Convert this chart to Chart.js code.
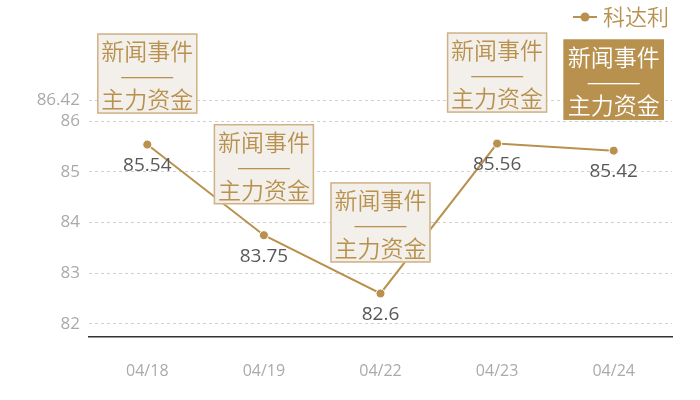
<!DOCTYPE html>
<html><head><meta charset="utf-8">
<script src="https://cdn.jsdelivr.net/npm/chart.js@4/dist/chart.umd.min.js"></script>
<style>html,body{margin:0;padding:0;background:#fff}#w{width:700px;height:400px}</style>
</head><body><div id="w"><canvas id="c"></canvas></div>
<script>
const categories = ['04/18','04/19','04/22','04/23','04/24'];
const seriesName = '科达利';
const values = [85.54, 83.75, 82.6, 85.56, 85.42];
const yTicks = [82, 83, 84, 85, 86, 86.42];
const annotationLines = ['新闻事件', '———', '主力资金'];
const highlighted = [false, false, false, false, true];
const yMin = 81.74, yMax = 86.42;

const GOLD = '#b8914e';
const FONT = '"Open Sans","Noto Sans CJK SC",sans-serif';
const CJK = '"Noto Sans CJK SC",sans-serif';

const overlay = {
  id: 'overlay',
  afterDatasetsDraw(chart) {
    const ctx = chart.ctx;
    const meta = chart.getDatasetMeta(0);
    ctx.save();
    ctx.font = '19px ' + FONT;
    ctx.fillStyle = '#595959';
    ctx.textAlign = 'center';
    ctx.textBaseline = 'middle';
    meta.data.forEach((p, i) => {
      ctx.fillText(String(values[i]), p.x, p.y + 21);
    });
    meta.data.forEach((p, i) => {
      const w = 100, h = 80;
      const x = p.x - w / 2, y = p.y - 31 - h;
      ctx.fillStyle = highlighted[i] ? GOLD : '#f3f0eb';
      ctx.fillRect(x, y, w, h);
      ctx.strokeStyle = highlighted[i] ? GOLD : '#cfb184';
      ctx.lineWidth = 1.5;
      ctx.strokeRect(x + 0.5, y + 0.5, w - 1, h - 1);
      ctx.fillStyle = highlighted[i] ? '#ffffff' : GOLD;
      ctx.font = '350 23px ' + CJK;
      ctx.fillText(annotationLines[0], p.x, y + 18);
      ctx.font = '350 22px ' + CJK;
      ctx.fillText(annotationLines[1], p.x, y + 42);
      ctx.font = '350 23px ' + CJK;
      ctx.fillText(annotationLines[2], p.x, y + 66);
    });
    const lx = 573, ly = 17;
    ctx.strokeStyle = GOLD; ctx.lineWidth = 2;
    ctx.beginPath(); ctx.moveTo(lx, ly); ctx.lineTo(lx + 24, ly); ctx.stroke();
    ctx.fillStyle = GOLD;
    ctx.beginPath(); ctx.arc(lx + 12, ly, 4.5, 0, Math.PI * 2); ctx.fill();
    ctx.font = '350 22px ' + CJK;
    ctx.textAlign = 'left';
    ctx.fillText(chart.data.datasets[0].label, lx + 30, ly);
    ctx.restore();
  }
};

new Chart(document.getElementById('c'), {
  type: 'line',
  data: {
    labels: categories,
    datasets: [{
      label: seriesName,
      data: values,
      borderColor: GOLD,
      backgroundColor: GOLD,
      borderWidth: 2,
      pointRadius: 4.5,
      pointBorderColor: '#ffffff',
      pointBorderWidth: 1,
      pointHoverRadius: 4.5,
      tension: 0
    }]
  },
  options: {
    responsive: true,
    maintainAspectRatio: false,
    animation: false,
    devicePixelRatio: 1,
    layout: { padding: { top: 100, right: 28, left: 0, bottom: 0 } },
    plugins: { legend: { display: false }, tooltip: { enabled: false } },
    scales: {
      x: {
        offset: true,
        grid: { display: false, drawTicks: false },
        border: { display: true, color: '#333333', width: 1.5 },
        ticks: { color: '#aaaaaa', font: { size: 16, family: FONT }, padding: 25 },
        afterFit(s) { s.height = 63; }
      },
      y: {
        min: yMin, max: yMax,
        afterBuildTicks(s) { s.ticks = yTicks.map(v => ({ value: v })); },
        grid: { color: '#d0d0d0', drawTicks: false },
        border: { display: false, dash: [3, 3] },
        ticks: { color: '#aaaaaa', font: { size: 17, family: FONT }, padding: 9,
                 callback: v => String(v) },
        afterFit(s) { s.width = 89; }
      }
    }
  },
  plugins: [overlay]
});
</script>
</body></html>
